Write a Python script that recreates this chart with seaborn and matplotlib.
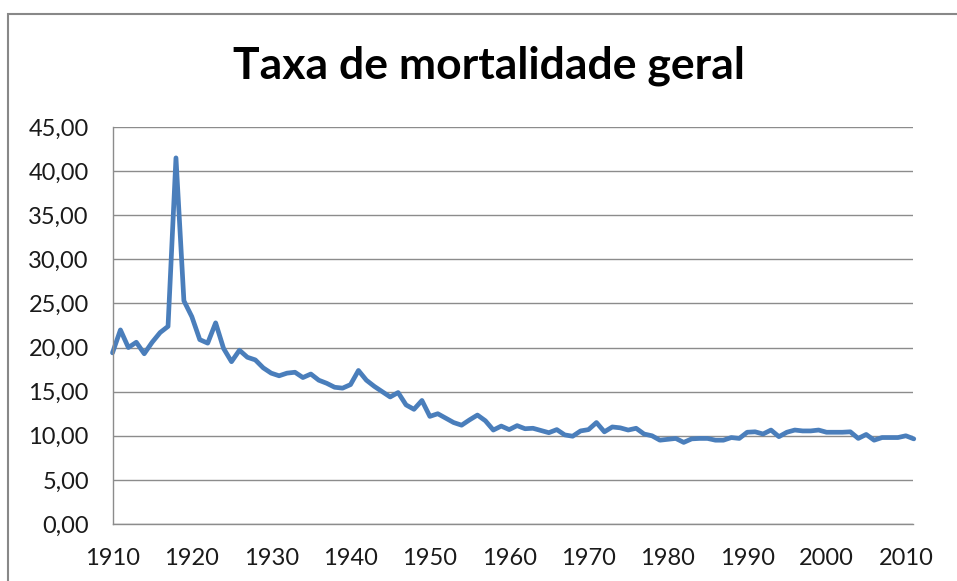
import matplotlib
matplotlib.use("Agg")
import matplotlib.pyplot as plt
import matplotlib.patches as mpatches
from matplotlib.ticker import FuncFormatter
import seaborn as sns
import pandas as pd

years = list(range(1910, 2012))
taxa = [
    19.4, 22.0, 20.0, 20.6, 19.3, 20.6, 21.7, 22.4, 41.5, 25.3,
    23.5, 20.9, 20.5, 22.8, 19.9, 18.4, 19.7, 18.9, 18.6, 17.7,
    17.1, 16.8, 17.1, 17.2, 16.6, 17.0, 16.3, 15.95, 15.5, 15.4,
    15.8, 17.4, 16.3, 15.6, 15.0, 14.4, 14.9, 13.5, 13.0, 14.0,
    12.2, 12.5, 12.0, 11.5, 11.2, 11.8, 12.35, 11.7, 10.65, 11.1,
    10.7, 11.15, 10.8, 10.85, 10.6, 10.35, 10.7, 10.1, 9.95, 10.55,
    10.7, 11.5, 10.45, 11.0, 10.9, 10.65, 10.85, 10.2, 10.0, 9.5,
    9.6, 9.7, 9.25, 9.65, 9.7, 9.7, 9.5, 9.5, 9.8, 9.7,
    10.4, 10.45, 10.2, 10.65, 9.9, 10.4, 10.65, 10.55, 10.55, 10.65,
    10.4, 10.4, 10.4, 10.45, 9.7, 10.15, 9.5, 9.8, 9.8, 9.8,
    10.0, 9.65,
]
x_ticks = list(range(1910, 2011, 10))
y_ticks = list(range(0, 46, 5))
title = "Taxa de mortalidade geral"

df = pd.DataFrame({"ano": years, "taxa": taxa})

sns.set_style("white")
plt.rcParams["font.family"] = ["Lato", "DejaVu Sans"]

W, H = 957, 581
x0, x1, y0, y1 = 112.5, 913, 524, 127
fig = plt.figure(figsize=(W / 100, H / 100), dpi=100)
ax = fig.add_axes([x0 / W, 1 - y0 / H, (x1 - x0) / W, (y0 - y1) / H])

sns.lineplot(data=df, x="ano", y="taxa", ax=ax, color="#4A7EBB", linewidth=3.4,
             clip_on=False)

ax.set_xlim(1910, 2010.9)
ax.set_ylim(0, 45)
ax.set_xticks(x_ticks)
ax.set_yticks(y_ticks)
ax.yaxis.set_major_formatter(FuncFormatter(lambda v, p: f"{v:.2f}".replace(".", ",")))
ax.set_xlabel("")
ax.set_ylabel("")

ax.grid(axis="y", color="#8c8c8c", linewidth=1.0)
ax.set_axisbelow(True)
for s in ["top", "right"]:
    ax.spines[s].set_visible(False)
for s in ["left", "bottom"]:
    ax.spines[s].set_color("#8c8c8c")
    ax.spines[s].set_linewidth(1.0)
ax.tick_params(axis="both", direction="out", length=7, width=1.0, color="#8c8c8c",
               labelsize=17, labelcolor="#1a1a1a")
ax.tick_params(axis="y", pad=10)
ax.tick_params(axis="x", pad=10)

fig.text(489 / W, 1 - 66 / H, title, ha="center", va="center",
         fontsize=32, fontweight="bold", color="black")

# chart frame
frame = mpatches.Rectangle((8 / W, -0.2), 2.0, 1 - 14 / H + 0.2, transform=fig.transFigure,
                           fill=False, edgecolor="#888888", linewidth=1.5)
fig.patches.append(frame)

fig.savefig("out.png", dpi=100)
